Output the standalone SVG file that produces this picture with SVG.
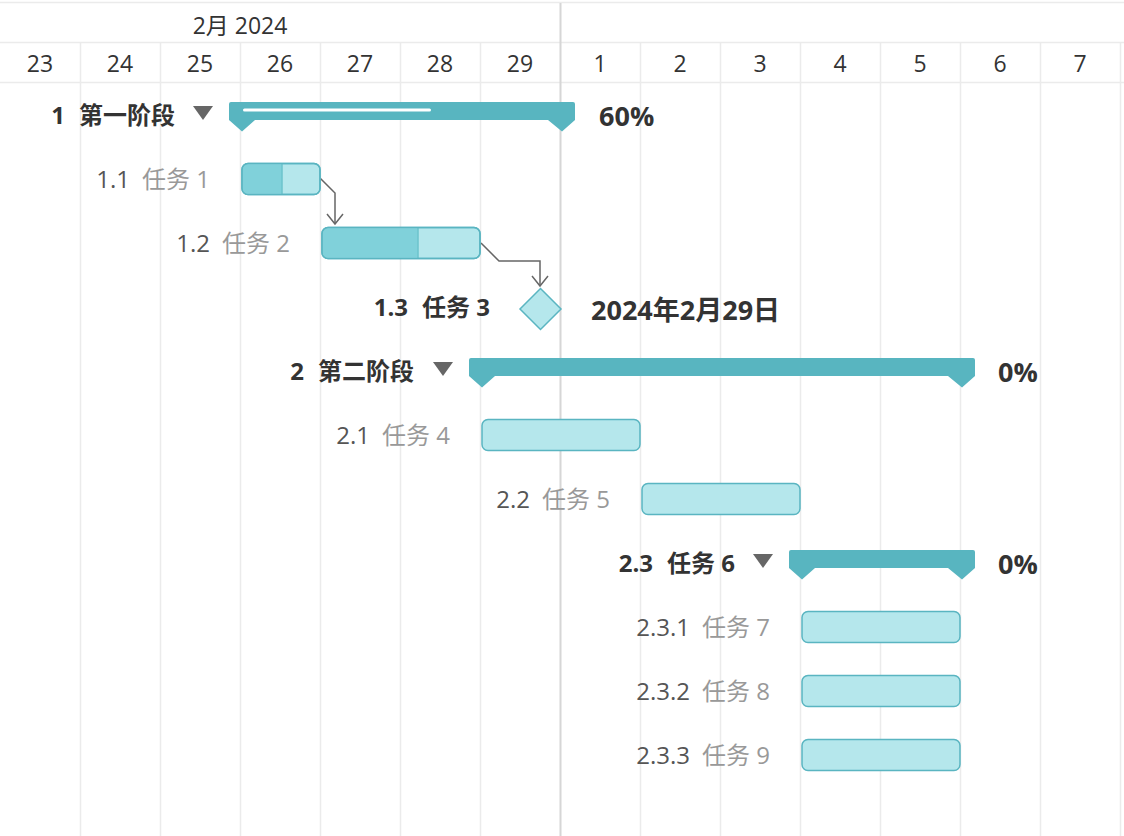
<svg xmlns="http://www.w3.org/2000/svg" width="1124" height="836" viewBox="0 0 1124 836">
<style>
text{font-family:"Open Sans","Noto Sans CJK SC",sans-serif;font-size:24px;fill:#333}
.hd{font-size:23px;text-anchor:middle;fill:#333}
.grid{stroke:#ebebeb;stroke-width:1.5}
.num{fill:#555}
.nm{fill:#999}
.b{font-weight:bold}
.lab{text-anchor:end}
.tri{fill:#666}
.sum{fill:#58b5c0}
.task{fill:#b5e7ec;stroke:#5ab5c1;stroke-width:1.5}
.prog{fill:#80d1da}
.pct{font-weight:bold;font-size:27px}
.conn{fill:none;stroke:#666;stroke-width:1.5}
</style>
<rect width="1124" height="836" fill="#fff"/>
<g id="grid">
<line class="grid" x1="0" y1="2.5" x2="1124" y2="2.5"/>
<line class="grid" x1="0" y1="42.5" x2="1124" y2="42.5"/>
<line class="grid" x1="0" y1="82.5" x2="1124" y2="82.5"/>
<g class="grid">
<line x1="80.5" y1="43" x2="80.5" y2="836"/>
<line x1="160.5" y1="43" x2="160.5" y2="836"/>
<line x1="240.5" y1="43" x2="240.5" y2="836"/>
<line x1="320.5" y1="43" x2="320.5" y2="836"/>
<line x1="400.5" y1="43" x2="400.5" y2="836"/>
<line x1="480.5" y1="43" x2="480.5" y2="836"/>
<line x1="640.5" y1="43" x2="640.5" y2="836"/>
<line x1="720.5" y1="43" x2="720.5" y2="836"/>
<line x1="800.5" y1="43" x2="800.5" y2="836"/>
<line x1="880.5" y1="43" x2="880.5" y2="836"/>
<line x1="960.5" y1="43" x2="960.5" y2="836"/>
<line x1="1040.5" y1="43" x2="1040.5" y2="836"/>
<line x1="1120.5" y1="43" x2="1120.5" y2="836"/>
</g>
<line x1="560.5" y1="3" x2="560.5" y2="836" stroke="#d6d6d6" stroke-width="2"/>
</g>
<g id="header">
<text class="hd" x="240" y="34">2月 2024</text>
<text class="hd" x="40" y="72">23</text>
<text class="hd" x="120" y="72">24</text>
<text class="hd" x="200" y="72">25</text>
<text class="hd" x="280" y="72">26</text>
<text class="hd" x="360" y="72">27</text>
<text class="hd" x="440" y="72">28</text>
<text class="hd" x="520" y="72">29</text>
<text class="hd" x="600" y="72">1</text>
<text class="hd" x="680" y="72">2</text>
<text class="hd" x="760" y="72">3</text>
<text class="hd" x="840" y="72">4</text>
<text class="hd" x="920" y="72">5</text>
<text class="hd" x="1000" y="72">6</text>
<text class="hd" x="1080" y="72">7</text>
</g>
<g id="connectors">
<path class="conn" d="M320.5,178.5 L335,193 V224"/>
<polyline class="conn" points="327,214 335,224 343,214"/>
<path class="conn" d="M481,243 L499,261 H540 V286"/>
<polyline class="conn" points="532,276 540,286 548,276"/>
</g>
<g id="task1">
<text class="lab b" x="175" y="124">1<tspan dx="14">第一阶段</tspan></text>
<polygon class="tri" points="193,106 213,106 203,120"/>
<path class="sum" d="M231,102 H573 Q575,102 575,104 V120 L562,131.5 L548,120 H255 L242,131.5 L229,120 V104 Q229,102 231,102 Z"/>
<line x1="244.5" y1="110" x2="429.5" y2="110" stroke="#fff" stroke-width="3" stroke-linecap="round"/>
<text class="pct" x="599" y="126">60%</text>
</g>
<g id="task1-1">
<text class="lab" x="210" y="188"><tspan class="num">1.1</tspan><tspan class="nm" dx="12">任务 1</tspan></text>
<rect class="task" x="242" y="163.5" width="78" height="31" rx="6"/>
<path class="prog" d="M282,164.25 V193.75 H248 Q242.75,193.75 242.75,188 V170 Q242.75,164.25 248,164.25 Z"/>
<line x1="282" y1="164" x2="282" y2="194" stroke="#6cc3cc" stroke-width="1.5"/>
<rect x="242" y="163.5" width="78" height="31" rx="6" fill="none" stroke="#5ab5c1" stroke-width="1.5"/>
</g>
<g id="task1-2">
<text class="lab" x="290" y="252"><tspan class="num">1.2</tspan><tspan class="nm" dx="12">任务 2</tspan></text>
<rect class="task" x="322" y="227.5" width="158" height="31" rx="6"/>
<path class="prog" d="M418,228.25 V257.75 H328 Q322.75,257.75 322.75,252 V234 Q322.75,228.25 328,228.25 Z"/>
<line x1="418" y1="228" x2="418" y2="258" stroke="#6cc3cc" stroke-width="1.5"/>
<rect x="322" y="227.5" width="158" height="31" rx="6" fill="none" stroke="#5ab5c1" stroke-width="1.5"/>
</g>
<g id="task1-3">
<text class="lab b" x="490" y="316">1.3<tspan dx="14">任务 3</tspan></text>
<polygon points="540.5,288.5 561,309 540.5,329.5 520,309" fill="#b5e7ec" stroke="#5ab5c1" stroke-width="1.5"/>
<text class="pct" x="591" y="320" font-size="28">2024年2月29日</text>
</g>
<g id="task2">
<text class="lab b" x="414" y="380">2<tspan dx="14">第二阶段</tspan></text>
<polygon class="tri" points="433,362 453,362 443,376"/>
<path class="sum" d="M471,358 H973 Q975,358 975,360 V376 L962,387.5 L948,376 H495 L482,387.5 L469,376 V360 Q469,358 471,358 Z"/>
<text class="pct" x="998" y="382">0%</text>
</g>
<g id="task2-1">
<text class="lab" x="450" y="444"><tspan class="num">2.1</tspan><tspan class="nm" dx="12">任务 4</tspan></text>
<rect class="task" x="482" y="419.5" width="158" height="31" rx="6"/>
</g>
<g id="task2-2">
<text class="lab" x="610" y="508"><tspan class="num">2.2</tspan><tspan class="nm" dx="12">任务 5</tspan></text>
<rect class="task" x="642" y="483.5" width="158" height="31" rx="6"/>
</g>
<g id="task2-3">
<text class="lab b" x="735" y="572">2.3<tspan dx="14">任务 6</tspan></text>
<polygon class="tri" points="753,554 773,554 763,568"/>
<path class="sum" d="M791,550 H973 Q975,550 975,552 V568 L962,579.5 L948,568 H815 L802,579.5 L789,568 V552 Q789,550 791,550 Z"/>
<text class="pct" x="998" y="574">0%</text>
</g>
<g id="task2-3-1">
<text class="lab" x="770" y="636"><tspan class="num">2.3.1</tspan><tspan class="nm" dx="12">任务 7</tspan></text>
<rect class="task" x="802" y="611.5" width="158" height="31" rx="6"/>
</g>
<g id="task2-3-2">
<text class="lab" x="770" y="700"><tspan class="num">2.3.2</tspan><tspan class="nm" dx="12">任务 8</tspan></text>
<rect class="task" x="802" y="675.5" width="158" height="31" rx="6"/>
</g>
<g id="task2-3-3">
<text class="lab" x="770" y="764"><tspan class="num">2.3.3</tspan><tspan class="nm" dx="12">任务 9</tspan></text>
<rect class="task" x="802" y="739.5" width="158" height="31" rx="6"/>
</g>
</svg>
